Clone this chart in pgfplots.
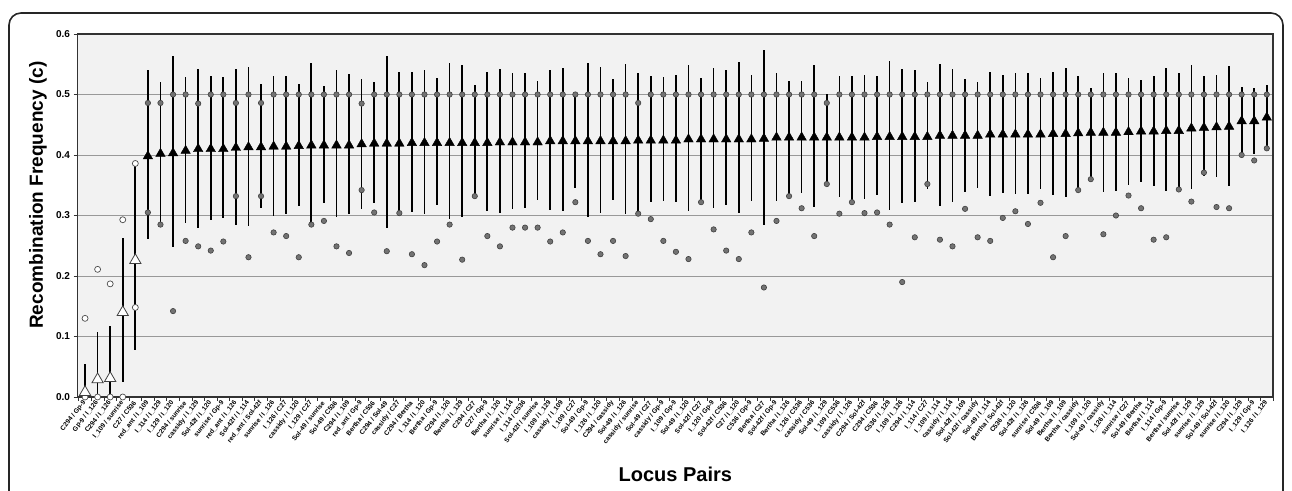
\documentclass[border=0pt]{standalone}
\usepackage{pgfplots}
\pgfplotsset{compat=1.18}
\usepackage{pgfplotstable}
\usepackage{fontspec}
\setmainfont{Liberation Sans}

% k = locus pair index, tri = estimate, top/bot = interval ends, hi/lo = the two point estimates
\pgfplotstableread{
k tri top bot hi lo
1 0.008 0.055 0.000 0.130 0.000
2 0.029 0.108 0.000 0.211 0.000
3 0.031 0.118 0.000 0.187 0.000
4 0.140 0.262 0.024 0.293 0.000
5 0.226 0.385 0.078 0.386 0.148
6 0.398 0.540 0.261 0.486 0.305
7 0.402 0.521 0.285 0.486 0.285
8 0.403 0.563 0.248 0.500 0.142
9 0.407 0.529 0.287 0.500 0.258
10 0.410 0.542 0.280 0.485 0.249
11 0.410 0.531 0.292 0.500 0.242
12 0.410 0.529 0.296 0.500 0.257
13 0.412 0.542 0.285 0.486 0.332
14 0.413 0.545 0.283 0.500 0.231
15 0.413 0.518 0.313 0.486 0.332
16 0.414 0.531 0.300 0.500 0.272
17 0.414 0.530 0.302 0.500 0.266
18 0.415 0.518 0.315 0.500 0.231
19 0.416 0.552 0.285 0.500 0.285
20 0.416 0.514 0.321 0.500 0.291
21 0.416 0.540 0.297 0.500 0.249
22 0.416 0.534 0.303 0.500 0.238
23 0.418 0.525 0.311 0.485 0.342
24 0.419 0.520 0.320 0.500 0.305
25 0.419 0.563 0.279 0.500 0.241
26 0.419 0.537 0.304 0.500 0.304
27 0.420 0.537 0.306 0.500 0.236
28 0.420 0.541 0.303 0.500 0.218
29 0.420 0.527 0.317 0.500 0.257
30 0.420 0.552 0.294 0.500 0.285
31 0.420 0.549 0.297 0.500 0.227
32 0.420 0.516 0.332 0.500 0.332
33 0.420 0.538 0.307 0.500 0.266
34 0.421 0.542 0.304 0.500 0.249
35 0.421 0.536 0.310 0.500 0.280
36 0.421 0.535 0.312 0.500 0.280
37 0.421 0.523 0.325 0.500 0.280
38 0.423 0.541 0.309 0.500 0.257
39 0.423 0.543 0.307 0.500 0.272
40 0.423 0.500 0.345 0.500 0.322
41 0.423 0.552 0.297 0.500 0.258
42 0.423 0.546 0.304 0.500 0.236
43 0.423 0.526 0.325 0.500 0.258
44 0.423 0.551 0.302 0.500 0.233
45 0.424 0.536 0.303 0.486 0.303
46 0.424 0.530 0.323 0.500 0.294
47 0.424 0.529 0.324 0.500 0.258
48 0.424 0.532 0.322 0.500 0.240
49 0.426 0.548 0.307 0.500 0.228
50 0.426 0.527 0.322 0.500 0.322
51 0.426 0.544 0.312 0.500 0.277
52 0.426 0.540 0.317 0.500 0.242
53 0.426 0.553 0.304 0.500 0.228
54 0.426 0.532 0.324 0.500 0.272
55 0.427 0.574 0.284 0.500 0.181
56 0.429 0.536 0.324 0.500 0.291
57 0.429 0.523 0.332 0.500 0.332
58 0.429 0.523 0.338 0.500 0.312
59 0.429 0.548 0.314 0.500 0.266
60 0.429 0.501 0.352 0.486 0.352
61 0.429 0.531 0.331 0.500 0.303
62 0.429 0.530 0.322 0.500 0.322
63 0.429 0.533 0.328 0.500 0.304
64 0.430 0.530 0.334 0.500 0.305
65 0.430 0.555 0.309 0.500 0.285
66 0.430 0.542 0.321 0.500 0.190
67 0.430 0.541 0.323 0.500 0.264
68 0.430 0.521 0.343 0.500 0.352
69 0.432 0.551 0.316 0.500 0.260
70 0.432 0.542 0.323 0.500 0.249
71 0.432 0.526 0.339 0.500 0.311
72 0.432 0.521 0.346 0.500 0.264
73 0.434 0.537 0.332 0.500 0.258
74 0.434 0.532 0.337 0.500 0.296
75 0.434 0.535 0.336 0.500 0.307
76 0.434 0.536 0.335 0.500 0.286
77 0.434 0.527 0.343 0.500 0.321
78 0.435 0.538 0.334 0.500 0.231
79 0.435 0.543 0.331 0.500 0.266
80 0.436 0.531 0.342 0.500 0.342
81 0.437 0.510 0.360 0.500 0.360
82 0.437 0.535 0.339 0.500 0.269
83 0.437 0.535 0.341 0.500 0.300
84 0.438 0.527 0.351 0.500 0.333
85 0.439 0.524 0.355 0.500 0.312
86 0.439 0.531 0.349 0.500 0.260
87 0.440 0.543 0.340 0.500 0.264
88 0.440 0.535 0.343 0.500 0.343
89 0.444 0.548 0.343 0.500 0.323
90 0.445 0.530 0.366 0.500 0.371
91 0.446 0.532 0.363 0.500 0.314
92 0.447 0.547 0.349 0.500 0.312
93 0.456 0.512 0.400 0.500 0.400
94 0.456 0.511 0.402 0.500 0.391
95 0.462 0.516 0.411 0.500 0.411
}\recomb

\begin{document}
\begin{tikzpicture}[x=1pt,y=1pt]
\useasboundingbox (0,0) rectangle (1292,490);
\begin{scope}
  \clip (0,0) rectangle (1292,490);
  \draw[line width=1.6pt, rounded corners=12pt, black!85] (9,-30) rectangle (1283,477);
\end{scope}
\begin{axis}[
    at={(77.5pt,93pt)}, anchor=south west,
    width=1195.5pt, height=363pt, scale only axis,
    xmin=0.4, xmax=95.5, ymin=0, ymax=0.6,
    clip=false,
    axis background/.style={fill=gray!10},
    axis line style={line width=1.4pt, black!80},
    ymajorgrids, grid style={line width=0.7pt, black!40},
    ytick={0,0.1,...,0.6},
    yticklabel style={font=\bfseries\fontsize{10}{10}\selectfont, /pgf/number format/.cd, fixed, fixed zerofill, precision=1, assume math mode=true},
    tick pos=left,
    tick align=outside, major tick length=4pt, minor tick length=3.5pt,
    tick style={line width=0.8pt, black!80},
    xtick={1,...,95},
    major x tick style={draw=none},
    minor xtick={0.5,1.5,...,95.5},
    xticklabel style={font=\bfseries\fontsize{6.6}{7}\selectfont, rotate=52, anchor=east, inner sep=0.8pt},
    xticklabels={C294 / Gp-9, Gp-9 / I\_126, C294 / I\_126, I\_109 / sunrise, C27 / C536, red\_ant / I\_109, I\_114 / I\_129, I\_129 / I\_120, C294 / sunrise, cassidy / I\_129, Sol-42f / I\_120, sunrise / Gp-9, red\_ant / I\_126, Sol-42f / I\_114, red\_ant / Sol-42f, sunrise / I\_126, I\_126 / C27, cassidy / I\_120, I\_129 / C27, Sol-49 / sunrise, Sol-49 / C536, C294 / I\_109, red\_ant / Gp-9, Bertha / C536, C294 / Sol-49, cassidy / C27, C294 / Bertha, I\_114 / I\_120, Bertha / Gp-9, C294 / I\_120, Bertha / I\_129, C294 / C27, C27 / Gp-9, Bertha / I\_120, sunrise / I\_114, I\_114 / C536, Sol-42f / sunrise, I\_109 / I\_129, cassidy / I\_109, I\_109 / C27, Sol-49 / Gp-9, I\_126 / I\_120, C294 / cassidy, Sol-49 / I\_126, cassidy / sunrise, Sol-49 / C27, cassidy / Gp-9, I\_109 / Gp-9, Sol-49 / I\_120, Sol-42f / C27, I\_120 / Gp-9, Sol-42f / C536, C27 / I\_120, C536 / Gp-9, Bertha / C27, Sol-42f / Gp-9, Bertha / I\_126, I\_126 / C536, cassidy / C536, Sol-49 / I\_129, I\_109 / C536, cassidy / I\_126, C294 / Sol-42f, C294 / C536, C536 / I\_129, I\_109 / I\_126, C294 / I\_114, I\_114 / C27, I\_109 / I\_114, cassidy / I\_114, Sol-42f / I\_109, Sol-42f / cassidy, Sol-49 / I\_114, Bertha / Sol-42f, C536 / I\_120, Sol-42f / I\_126, sunrise / C536, Sol-49 / I\_109, Bertha / I\_109, Bertha / cassidy, I\_109 / I\_120, Sol-49 / cassidy, I\_126 / I\_114, sunrise / C27, Sol-49 / Bertha, Bertha / I\_114, I\_114 / Gp-9, Bertha / sunrise, Sol-42f / I\_129, sunrise / I\_129, Sol-49 / Sol-42f, sunrise / I\_120, C294 / I\_129, I\_129 / Gp-9, I\_126 / I\_129},
    xlabel={Locus Pairs},
    xlabel style={font=\bfseries\fontsize{20}{20}\selectfont, at={(axis description cs:0.5,-0.214)}, anchor=center},
    ylabel={Recombination Frequency (c)},
    ylabel style={font=\bfseries\fontsize{19}{20}\selectfont, at={(axis description cs:-0.033,0.556)}, anchor=center},
]
% interval bars
\addplot[only marks, mark=none,
    error bars/.cd, y dir=both, y explicit, error mark=none,
    error bar style={line width=1.7pt, black}]
    table[x=k, y=tri, y error plus expr=\thisrow{top}-\thisrow{tri}, y error minus expr=\thisrow{tri}-\thisrow{bot}] {\recomb};
% point estimates (circles)
\addplot[only marks, mark=*, mark size=2.7pt, mark options={fill=black!55, draw=black!75, line width=0.6pt}, restrict x to domain=6:95]
    table[x=k, y=hi] {\recomb};
\addplot[only marks, mark=*, mark size=2.7pt, mark options={fill=black!55, draw=black!75, line width=0.6pt}, restrict x to domain=6:95]
    table[x=k, y=lo] {\recomb};
\addplot[only marks, mark=*, mark size=3pt, mark options={fill=white, draw=black!70, line width=0.7pt}, restrict x to domain=1:5]
    table[x=k, y=hi] {\recomb};
\addplot[only marks, mark=*, mark size=3pt, mark options={fill=white, draw=black!70, line width=0.7pt}, restrict x to domain=1:5]
    table[x=k, y=lo] {\recomb};
% estimates (triangles)
\addplot[only marks, mark=triangle*, mark size=6.5pt, mark options={fill=white, draw=black!75, line width=0.8pt}, restrict x to domain=1:5]
    table[x=k, y=tri] {\recomb};
\addplot[only marks, mark=triangle*, mark size=5.5pt, mark options={fill=black, draw=black}, restrict x to domain=6:95]
    table[x=k, y=tri] {\recomb};
\end{axis}
\end{tikzpicture}
\end{document}
